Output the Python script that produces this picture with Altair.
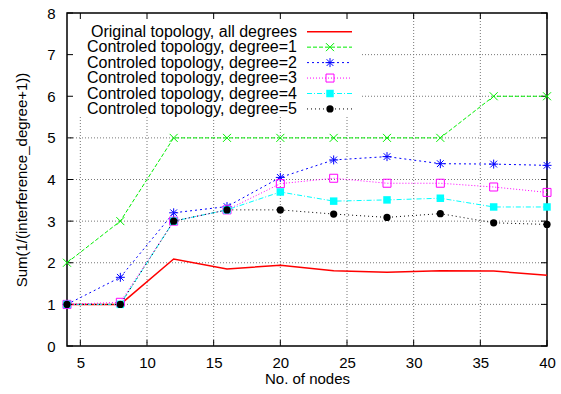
import altair as alt
import pandas as pd

nodes = [4, 8, 12, 16, 20, 24, 28, 32, 36, 40]
original = [1, 1, 2.09, 1.85, 1.94, 1.81, 1.77, 1.81, 1.80, 1.70]
deg1 = [2, 3, 5, 5, 5, 5, 5, 5, 6, 6]
deg2 = [1, 1.65, 3.2, 3.35, 4.05, 4.47, 4.55, 4.38, 4.37, 4.34]
deg3 = [1, 1.05, 3.0, 3.27, 3.9, 4.03, 3.91, 3.91, 3.82, 3.69]
deg4 = [1, 1, 3.0, 3.27, 3.7, 3.48, 3.51, 3.55, 3.34, 3.34]
deg5 = [1, 1, 3.0, 3.27, 3.27, 3.17, 3.09, 3.18, 2.96, 2.92]

names = [
    "Original topology, all degrees",
    "Controled topology, degree=1",
    "Controled topology, degree=2",
    "Controled topology, degree=3",
    "Controled topology, degree=4",
    "Controled topology, degree=5",
]
series_values = [original, deg1, deg2, deg3, deg4, deg5]
colors = ["#ff0000", "#00ee00", "#0000ff", "#ff00ff", "#00ffff", "#000000"]
dashes = [None, [4, 2], [2, 3], [1, 2], [5, 2, 1, 2], [1, 3]]
widths = [1.5, 1, 1, 1, 1, 1]
X_PATH = "M-1,-1L1,1M-1,1L1,-1"
STAR_PATH = "M-1,0L1,0M0,-1L0,1M-0.75,-0.75L0.75,0.75M-0.75,0.75L0.75,-0.75"
shapes = [None, X_PATH, STAR_PATH, "square", "square", "circle"]
filled = [False, False, False, False, True, True]
sizes = [0, 64, 81, 64, 56, 52]

x_ticks = [5, 10, 15, 20, 25, 30, 35, 40]
y_ticks = [0, 1, 2, 3, 4, 5, 6, 7, 8]
x_min, x_max = 4, 40
y_min, y_max = 0, 8

W, H = 480, 333
FONT = "Liberation Sans"
KEY_RIGHT, KEY_BOTTOM = 295, 104  # extent of the opaque key box, in pixels

xscale = alt.Scale(domain=[x_min, x_max], nice=False, zero=False)
yscale = alt.Scale(domain=[y_min, y_max], nice=False)

X_ENC = alt.X("nodes:Q", scale=xscale,
              axis=alt.Axis(values=x_ticks, title="No. of nodes", grid=False,
                            ticks=False, domain=False, labelPadding=9,
                            labelFlush=False, labelOverlap=False,
                            titlePadding=1, labelFontSize=15, titleFontSize=15,
                            titleFontWeight="normal", labelFont=FONT, titleFont=FONT,
                            labelColor="black", titleColor="black"))
Y_ENC = alt.Y("v:Q", scale=yscale,
              axis=alt.Axis(values=y_ticks, title="Sum(1/(interference_degree+1))",
                            grid=False, ticks=False, domain=False, labelPadding=12,
                            labelFlush=False, labelOverlap=False,
                            titlePadding=17, labelFontSize=15, titleFontSize=15,
                            titleFontWeight="normal", labelFont=FONT, titleFont=FONT,
                            labelColor="black", titleColor="black"))

layers = []
one = pd.DataFrame({"a": [0]})
GRID = dict(color="#777777", strokeWidth=1, strokeDash=[1, 2])

# grid lines (gnuplot style: hidden behind the opaque key box)
def xpix(t):
    return (t - x_min) / (x_max - x_min) * W

def ypix(t):
    return H - (t - y_min) / (y_max - y_min) * H

inner_x = [t for t in x_ticks if x_min < t < x_max]
inner_y = [t for t in y_ticks if y_min < t < y_max]
vx_part = pd.DataFrame({"nodes": [t for t in inner_x if xpix(t) < KEY_RIGHT]})
vx_full = pd.DataFrame({"nodes": [t for t in inner_x if xpix(t) >= KEY_RIGHT]})
hy_part = pd.DataFrame({"v": [t for t in inner_y if ypix(t) < KEY_BOTTOM]})
hy_full = pd.DataFrame({"v": [t for t in inner_y if ypix(t) >= KEY_BOTTOM]})
layers.append(alt.Chart(vx_part).mark_rule(**GRID).encode(
    x=X_ENC, y=alt.value(H), y2=alt.value(KEY_BOTTOM)))
layers.append(alt.Chart(vx_full).mark_rule(**GRID).encode(
    x=X_ENC, y=alt.value(H), y2=alt.value(0)))
layers.append(alt.Chart(hy_part).mark_rule(**GRID).encode(
    y=Y_ENC, x=alt.value(KEY_RIGHT), x2=alt.value(W)))
layers.append(alt.Chart(hy_full).mark_rule(**GRID).encode(
    y=Y_ENC, x=alt.value(0), x2=alt.value(W)))

# inward tick marks on all four sides
xt = pd.DataFrame({"nodes": x_ticks})
yt = pd.DataFrame({"v": y_ticks})
for yv, y2v in [(H, H - 6), (0, 6)]:
    layers.append(alt.Chart(xt).mark_rule(color="black", strokeWidth=1).encode(
        x=X_ENC, y=alt.value(yv), y2=alt.value(y2v)))
for xv, x2v in [(0, 6), (W, W - 6)]:
    layers.append(alt.Chart(yt).mark_rule(color="black", strokeWidth=1).encode(
        y=Y_ENC, x=alt.value(xv), x2=alt.value(x2v)))

for i, (name, vals) in enumerate(zip(names, series_values)):
    df = pd.DataFrame({"nodes": nodes, "v": vals})
    kw = dict(color=colors[i], strokeWidth=widths[i])
    if dashes[i]:
        kw["strokeDash"] = dashes[i]
    layers.append(alt.Chart(df).mark_line(**kw).encode(x=X_ENC, y=Y_ENC))
    if shapes[i]:
        pkw = dict(shape=shapes[i], size=sizes[i], color=colors[i], opacity=1,
                   filled=filled[i], strokeWidth=1)
        layers.append(alt.Chart(df).mark_point(**pkw).encode(x=X_ENC, y=Y_ENC))

# legend (gnuplot style: label then sample)
for i, name in enumerate(names):
    ry = 18.7 + i * 15.45
    layers.append(alt.Chart(one).mark_text(
        text=name, align="right", baseline="middle", font=FONT, fontSize=16,
        color="black").encode(x=alt.value(230), y=alt.value(ry)))
    kw = dict(color=colors[i], strokeWidth=widths[i])
    if dashes[i]:
        kw["strokeDash"] = dashes[i]
    layers.append(alt.Chart(one).mark_rule(**kw).encode(
        x=alt.value(240), x2=alt.value(285), y=alt.value(ry)))
    if shapes[i]:
        layers.append(alt.Chart(one).mark_point(
            shape=shapes[i], size=sizes[i], color=colors[i], opacity=1,
            filled=filled[i], strokeWidth=1).encode(x=alt.value(263), y=alt.value(ry)))

chart = alt.layer(*layers).properties(
    width=W, height=H, autosize="none",
    padding={"left": 67, "top": 13, "right": 14, "bottom": 48},
).configure(background="white").configure_view(stroke="black", strokeWidth=1.5)

chart.save("out.html", embed_options={"renderer": "svg", "actions": False})
